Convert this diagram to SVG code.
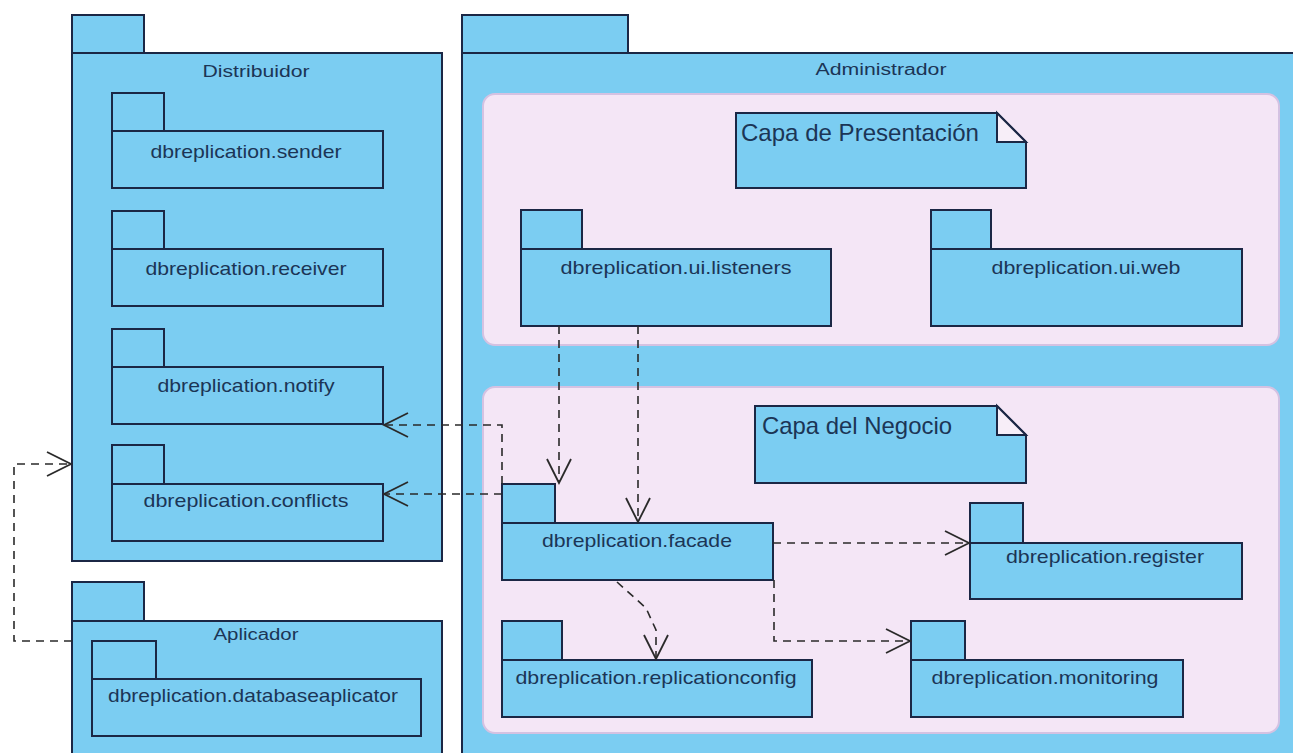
<svg xmlns="http://www.w3.org/2000/svg" width="1293" height="753" viewBox="0 0 1293 753">
<style>
.pk{fill:#7BCDF2;stroke:#1B2745;stroke-width:2}
.layer{fill:#F4E6F6;stroke:#D4C2E2;stroke-width:2}
.fold{fill:#F7EEF8;stroke:#1B2745;stroke-width:2}
.t{font-family:"Liberation Sans",Arial,sans-serif;fill:#1B3556;text-anchor:middle}
.n{font-size:19px}
.c{font-size:16px}
.note{font-family:"Liberation Sans",Arial,sans-serif;fill:#1B3556;font-size:24px}
.dep{fill:none;stroke:#2A2A2A;stroke-width:1.6;stroke-dasharray:8 6;marker-end:url(#open)}
</style>
<defs>
<marker id="open" markerUnits="userSpaceOnUse" markerWidth="30" markerHeight="30" viewBox="-26 -14 30 28" refX="0" refY="0" orient="auto">
<path d="M-24,-12 L0,0 L-24,12" fill="none" stroke="#2A2A2A" stroke-width="1.8" stroke-dasharray="none"/>
</marker>
</defs>
<rect width="1293" height="753" fill="#FFFFFF"/>

<g id="distribuidor">
<rect class="pk" x="72" y="15" width="72" height="38"/>
<rect class="pk" x="72" y="53" width="370" height="508"/>
<text class="t c" x="256" y="77" textLength="107" lengthAdjust="spacingAndGlyphs">Distribuidor</text>
</g>
<g id="sender">
<rect class="pk" x="112" y="93" width="52" height="38"/>
<rect class="pk" x="112" y="131" width="271" height="57"/>
<text class="t n" x="246" y="158" textLength="191" lengthAdjust="spacingAndGlyphs">dbreplication.sender</text>
</g>
<g id="receiver">
<rect class="pk" x="112" y="211" width="52" height="38"/>
<rect class="pk" x="112" y="249" width="271" height="57"/>
<text class="t n" x="246" y="275" textLength="201" lengthAdjust="spacingAndGlyphs">dbreplication.receiver</text>
</g>
<g id="notify">
<rect class="pk" x="112" y="329" width="52" height="38"/>
<rect class="pk" x="112" y="367" width="271" height="57"/>
<text class="t n" x="246" y="392" textLength="177" lengthAdjust="spacingAndGlyphs">dbreplication.notify</text>
</g>
<g id="conflicts">
<rect class="pk" x="112" y="445" width="52" height="39"/>
<rect class="pk" x="112" y="484" width="271" height="57"/>
<text class="t n" x="246" y="507" textLength="205" lengthAdjust="spacingAndGlyphs">dbreplication.conflicts</text>
</g>

<g id="aplicador">
<rect class="pk" x="72" y="582" width="72" height="39"/>
<rect class="pk" x="72" y="621" width="370" height="145"/>
<text class="t c" x="256" y="640" textLength="85" lengthAdjust="spacingAndGlyphs">Aplicador</text>
</g>
<g id="databaseaplicator">
<rect class="pk" x="92" y="641" width="64" height="38"/>
<rect class="pk" x="92" y="679" width="329" height="57"/>
<text class="t n" x="253" y="702" textLength="290" lengthAdjust="spacingAndGlyphs">dbreplication.databaseaplicator</text>
</g>

<g id="administrador">
<rect class="pk" x="462" y="15" width="166" height="38"/>
<rect class="pk" x="462" y="53" width="845" height="715"/>
<text class="t c" x="881" y="75" textLength="131" lengthAdjust="spacingAndGlyphs">Administrador</text>
</g>

<g id="capa-presentacion">
<rect class="layer" x="483" y="94" width="796" height="251" rx="12"/>
</g>
<g id="nota-presentacion">
<path class="pk" d="M736,113 H997 L1026,142 V188 H736 Z"/>
<path class="fold" d="M997,113 V142 H1026 Z"/>
<text class="note" x="741" y="141" textLength="238" lengthAdjust="spacingAndGlyphs">Capa de Presentación</text>
</g>
<g id="ui-listeners">
<rect class="pk" x="521" y="210" width="61" height="39"/>
<rect class="pk" x="521" y="249" width="310" height="77"/>
<text class="t n" x="676" y="274" textLength="231" lengthAdjust="spacingAndGlyphs">dbreplication.ui.listeners</text>
</g>
<g id="ui-web">
<rect class="pk" x="931" y="210" width="60" height="39"/>
<rect class="pk" x="931" y="249" width="311" height="77"/>
<text class="t n" x="1086" y="274" textLength="189" lengthAdjust="spacingAndGlyphs">dbreplication.ui.web</text>
</g>

<g id="capa-negocio">
<rect class="layer" x="483" y="387" width="796" height="346" rx="12"/>
</g>
<g id="nota-negocio">
<path class="pk" d="M755,406 H997 L1026,435 V483 H755 Z"/>
<path class="fold" d="M997,406 V435 H1026 Z"/>
<text class="note" x="762" y="434" textLength="190" lengthAdjust="spacingAndGlyphs">Capa del Negocio</text>
</g>
<g id="facade">
<rect class="pk" x="502" y="484" width="53" height="39"/>
<rect class="pk" x="502" y="523" width="271" height="57"/>
<text class="t n" x="637" y="547" textLength="190" lengthAdjust="spacingAndGlyphs">dbreplication.facade</text>
</g>
<g id="register">
<rect class="pk" x="970" y="503" width="53" height="40"/>
<rect class="pk" x="970" y="543" width="272" height="56"/>
<text class="t n" x="1105" y="563" textLength="198" lengthAdjust="spacingAndGlyphs">dbreplication.register</text>
</g>
<g id="replicationconfig">
<rect class="pk" x="502" y="621" width="60" height="39"/>
<rect class="pk" x="502" y="660" width="310" height="57"/>
<text class="t n" x="656" y="684" textLength="281" lengthAdjust="spacingAndGlyphs">dbreplication.replicationconfig</text>
</g>
<g id="monitoring">
<rect class="pk" x="911" y="621" width="54" height="39"/>
<rect class="pk" x="911" y="660" width="272" height="57"/>
<text class="t n" x="1045" y="684" textLength="227" lengthAdjust="spacingAndGlyphs">dbreplication.monitoring</text>
</g>

<g id="connectors">
<path class="dep" d="M559,326 V483"/>
<path class="dep" d="M638,326 V522"/>
<path class="dep" d="M502,484 V425 H384"/>
<path class="dep" d="M502,494 H384"/>
<path class="dep" d="M72,641 H14 V464 H71"/>
<path class="dep" d="M773,543 H969"/>
<path class="dep" d="M774,580 V641 H910"/>
<path class="dep" d="M617,582 L646,608 L656,630 V659"/>
</g>
</svg>
